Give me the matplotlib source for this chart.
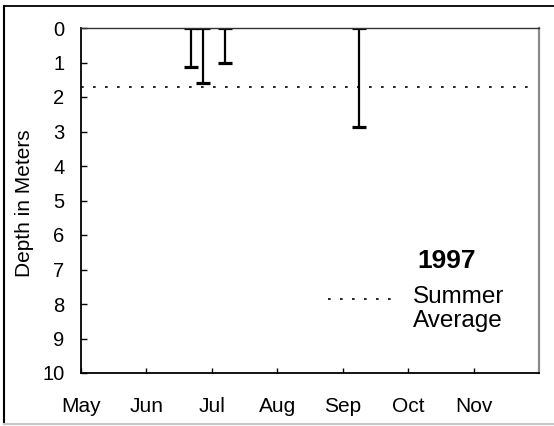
import matplotlib
matplotlib.use("Agg")
import matplotlib.pyplot as plt
from matplotlib.lines import Line2D
import numpy as np

plt.rcParams['font.family'] = ['Liberation Sans', 'DejaVu Sans']

# ---- data ----
months = ['May', 'Jun', 'Jul', 'Aug', 'Sep', 'Oct', 'Nov']
sample_pos = [1.68, 1.86, 2.20, 4.25]      # months after May 1
secchi_depth = [1.12, 1.60, 1.00, 2.86]    # meters
summer_avg = 1.7
depth_ticks = list(range(0, 11))
year_label = '1997'

W, H = 554, 426
fig = plt.figure(figsize=(W / 100, H / 100), dpi=100)

def fx(px):
    return px / W

def fy(py):
    return 1 - py / H

ax = fig.add_axes([fx(81), fy(373), (539 - 81) / W, (373 - 28) / H])

ax.errorbar(sample_pos, np.zeros(len(sample_pos)),
            yerr=[np.zeros(len(sample_pos)), secchi_depth],
            fmt='none', ecolor='black', elinewidth=1.6,
            capsize=4.7, capthick=2.3)

avg_line = ax.axhline(summer_avg, xmin=0, xmax=0.985, color='black', lw=1.2)
avg_line.set_dashes((1.6, 5.6))

ax.set_xlim(0, 7)
ax.set_ylim(10, 0)
ax.set_xticks(range(len(months)))
ax.set_xticklabels(months, fontsize=15)
ax.set_yticks(depth_ticks)
ax.set_yticklabels([str(t) for t in depth_ticks], fontsize=14.5)
ax.tick_params(axis='x', direction='in', length=3.5, width=1, pad=17)
ax.tick_params(axis='y', direction='in', length=4.3, width=1, pad=12)

for s in ['left', 'bottom']:
    ax.spines[s].set_linewidth(1.3)
    ax.spines[s].set_color('black')
ax.spines['top'].set_linewidth(1.0)
ax.spines['top'].set_color('#333333')
ax.spines['right'].set_linewidth(1.6)
ax.spines['right'].set_color('#8a8a8a')

fig.text(fx(25), fy(203), 'Depth in Meters', rotation=90,
         ha='center', va='center', fontsize=15)

# legend-like annotation
fig.text(fx(447), fy(261), year_label, ha='center', va='center',
         fontsize=19, fontweight='bold')
fig.text(fx(413), fy(297), 'Summer', ha='left', va='center', fontsize=17.5)
fig.text(fx(413), fy(321), 'Average', ha='left', va='center', fontsize=17.5)
leg = Line2D([fx(328), fx(400)], [fy(299), fy(299)], transform=fig.transFigure,
             color='black', lw=1.2)
leg.set_dashes((1.6, 5.6))
fig.add_artist(leg)

# outer frame
fig.add_artist(Line2D([fx(4), fx(554)], [fy(6), fy(6)], transform=fig.transFigure,
                      color='black', lw=1.3))
fig.add_artist(Line2D([fx(4), fx(4)], [fy(6), fy(424)], transform=fig.transFigure,
                      color='black', lw=1.5))
fig.add_artist(Line2D([fx(4), fx(554)], [fy(424), fy(424)], transform=fig.transFigure,
                      color='#c8c8c8', lw=1.5))

fig.savefig('out.png', dpi=100)
